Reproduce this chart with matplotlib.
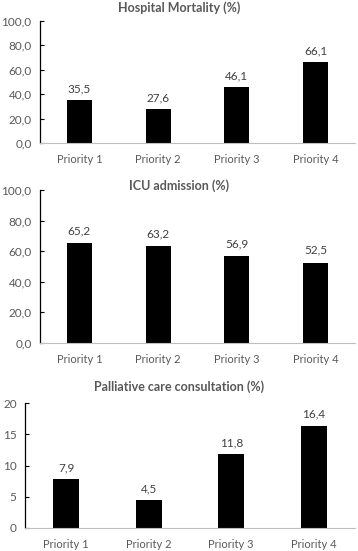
import matplotlib
matplotlib.use("Agg")
import matplotlib.pyplot as plt

categories = ["Priority 1", "Priority 2", "Priority 3", "Priority 4"]
mortality = [35.5, 27.6, 46.1, 66.1]
icu = [65.2, 63.2, 56.9, 52.5]
palliative = [7.9, 4.5, 11.8, 16.4]

titles = ["Hospital Mortality (%)", "ICU admission (%)", "Palliative care consultation (%)"]
yticks_list = [[0, 20, 40, 60, 80, 100], [0, 20, 40, 60, 80, 100], [0, 5, 10, 15, 20]]
ylims = [(0, 100), (0, 100), (0, 20)]
fmt_tick = [lambda v: f"{v:.1f}".replace(".", ","), lambda v: f"{v:.1f}".replace(".", ","), lambda v: f"{v:g}"]

plt.rcParams['font.family'] = ['Lato', 'DejaVu Sans']
GRAY = "#595959"

fig = plt.figure(figsize=(3.58, 5.51), dpi=100)
W, H = 358, 551
boxes = [(40, 21, 355, 143), (40, 190, 355, 343), (25, 403, 355, 528)]
title_y = [8, 186, 387]
series = [mortality, icu, palliative]

for k in range(3):
    l, t, r, b = boxes[k]
    ax = fig.add_axes([l / W, (H - b) / H, (r - l) / W, (b - t) / H])
    x = range(len(categories))
    vals = series[k]
    ax.bar(x, vals, width=0.32, color="black")
    ax.set_xlim(-0.5, 3.5)
    ax.set_ylim(*ylims[k])
    ax.set_xticks(list(x))
    ax.set_xticklabels(categories, color=GRAY, fontsize=8)
    ax.set_yticks(yticks_list[k])
    ax.set_yticklabels([fmt_tick[k](v) for v in yticks_list[k]], color=GRAY, fontsize=8.5)
    ax.tick_params(axis="x", length=0, pad=8)
    ax.tick_params(axis="y", direction="in", length=3, width=0.8, color="black", pad=6)
    for s in ["top", "right"]:
        ax.spines[s].set_visible(False)
    ax.spines["left"].set_color("black")
    ax.spines["left"].set_linewidth(0.9)
    ax.spines["bottom"].set_color("#bfbfbf")
    ax.spines["bottom"].set_linewidth(0.8)
    yr = ylims[k][1]
    for i, v in enumerate(vals):
        ax.text(i, v + yr * 0.045, f"{v:.1f}".replace(".", ","), ha="center", va="bottom",
                color="#404040", fontsize=8.5)
    fig.text(0.5, 1 - title_y[k] / H, titles[k], ha="center", va="center",
             fontsize=9, fontweight="bold", color=GRAY)

fig.savefig("out.png", dpi=100, facecolor="white")
